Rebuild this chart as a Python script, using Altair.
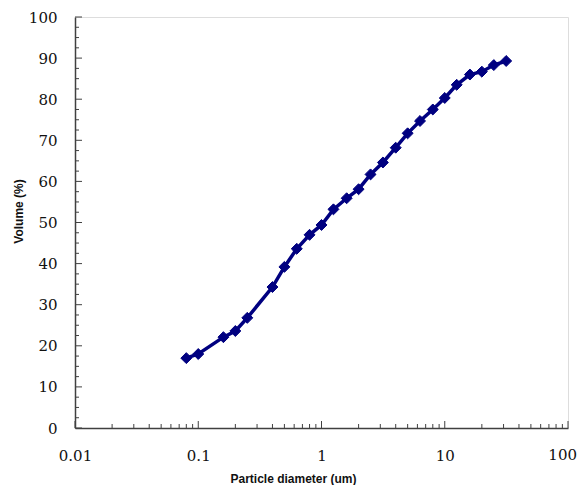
import altair as alt
import pandas as pd

# Data
diameter_um = [0.08, 0.1, 0.16, 0.2, 0.25, 0.4, 0.5, 0.63, 0.8, 1.0, 1.25, 1.6, 2.0,
               2.5, 3.15, 4.0, 5.0, 6.3, 8.0, 10.0, 12.5, 16.0, 20.0, 25.0, 31.5]
volume_pct = [17.0, 18.0, 22.1, 23.6, 26.8, 34.3, 39.2, 43.6, 47.0, 49.4, 53.2, 55.9, 58.1,
              61.7, 64.6, 68.2, 71.7, 74.7, 77.5, 80.3, 83.5, 86.0, 86.7, 88.3, 89.3]

x_major = [0.01, 0.1, 1, 10, 100]
x_minor = [m * d for d in [0.01, 0.1, 1, 10] for m in range(2, 10)]
y_major = [0, 10, 20, 30, 40, 50, 60, 70, 80, 90, 100]
y_minor = [v + o for v in range(0, 100, 10) for o in (2.5, 5, 7.5)]

W, H = 493, 411
NAVY = "#000080"
AX = "#404040"

df = pd.DataFrame({"d": diameter_um, "v": volume_pct})

xscale = alt.Scale(type="log", domain=[0.01, 100])
yscale = alt.Scale(domain=[0, 100], nice=False, zero=True)

xaxis = alt.Axis(values=x_major, format="~g", ticks=False, grid=False,
                 labelExpr="datum.value >= 100 ? '' : datum.label",
                 labelFont="DejaVu Serif", labelFontSize=15, labelColor="#111",
                 labelPadding=20, labelFlush=False, labelOverlap=False,
                 domainColor=AX, domainWidth=1.5,
                 title="Particle diameter (um)", titleFont="Liberation Sans",
                 titleFontSize=12, titleFontWeight="bold", titleColor="#111",
                 titleX=218, titleY=54, titleAlign="center", titleBaseline="alphabetic")
yaxis = alt.Axis(values=y_major, ticks=False, grid=False,
                 labelFont="DejaVu Serif", labelFontSize=15, labelColor="#111",
                 labelPadding=18, labelFlush=False, labelOverlap=False,
                 domainColor=AX, domainWidth=1.5,
                 title="Volume (%)", titleFont="Liberation Sans",
                 titleFontSize=12, titleFontWeight="bold", titleColor="#111",
                 titleX=-57, titleY=194, titleAngle=270, titleAlign="center",
                 titleBaseline="middle")

base = alt.Chart(df)
line = base.mark_line(color=NAVY, strokeWidth=3.5).encode(
    x=alt.X("d:Q", scale=xscale, axis=xaxis),
    y=alt.Y("v:Q", scale=yscale, axis=yaxis),
)
pts = base.mark_point(shape="diamond", filled=True, color=NAVY, size=120,
                      opacity=1, stroke=NAVY, strokeWidth=1).encode(
    x=alt.X("d:Q", scale=xscale),
    y=alt.Y("v:Q", scale=yscale),
)

ymaj = alt.Chart(pd.DataFrame({"t": y_major})).mark_rule(color=AX, strokeWidth=1).encode(
    y=alt.Y("t:Q", scale=yscale), x=alt.value(0), x2=alt.value(7))
ymin = alt.Chart(pd.DataFrame({"t": y_minor})).mark_rule(color=AX, strokeWidth=1).encode(
    y=alt.Y("t:Q", scale=yscale), x=alt.value(0), x2=alt.value(4))
xmaj = alt.Chart(pd.DataFrame({"t": x_major})).mark_rule(color=AX, strokeWidth=1).encode(
    x=alt.X("t:Q", scale=xscale), y=alt.value(H), y2=alt.value(H - 7))
xmin = alt.Chart(pd.DataFrame({"t": x_minor})).mark_rule(color=AX, strokeWidth=1).encode(
    x=alt.X("t:Q", scale=xscale), y=alt.value(H), y2=alt.value(H - 4))

last_lbl = alt.Chart(pd.DataFrame({"t": x_major[-1:], "s": ["100"]})).mark_text(
    font="DejaVu Serif", fontSize=15, color="#111", align="right", baseline="top", dx=9
).encode(x=alt.X("t:Q", scale=xscale), y=alt.value(H + 20), text="s:N")

chart = alt.layer(ymin, ymaj, xmin, xmaj, line, pts, last_lbl).properties(
    width=W, height=H,
    autosize=alt.AutoSizeParams(type="none"),
    padding={"left": 67, "top": 9, "right": 9, "bottom": 57},
).configure_view(stroke="#666666", strokeWidth=1.5).configure(background="white")

chart.save("out.html", embed_options={"renderer": "svg", "actions": False})
